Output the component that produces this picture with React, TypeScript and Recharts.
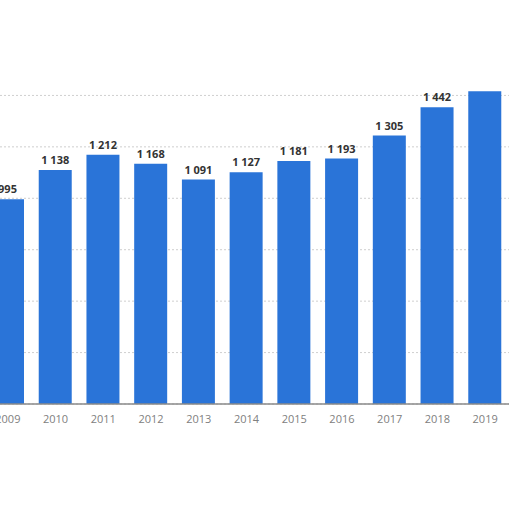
import React from "react";
import { BarChart, Bar, XAxis, YAxis, CartesianGrid, LabelList } from "recharts";

const years = ["2009", "2010", "2011", "2012", "2013", "2014", "2015", "2016", "2017", "2018", "2019"];
const values = [995, 1138, 1212, 1168, 1091, 1127, 1181, 1193, 1305, 1442, 1520];
// value labels as printed above the bars (the 2019 one is not visible in the picture)
const barLabels = ["995", "1 138", "1 212", "1 168", "1 091", "1 127", "1 181", "1 193", "1 305", "1 442", ""];
const yTicks = [0, 250, 500, 750, 1000, 1250, 1500];

const data = years.map((year, i) => ({
  year,
  value: values[i],
  // no-break space so the label is never wrapped to the bar width
  label: barLabels[i].replace(/ /g, "\u00a0"),
}));

export default function App() {
  return (
    <div
      style={{
        position: "absolute",
        left: 0,
        top: 0,
        width: 512,
        height: 512,
        overflow: "hidden",
        background: "#fff",
        fontFamily: "'Open Sans', sans-serif",
      }}
    >
      <div style={{ position: "absolute", left: -16, top: 0 }}>
        <BarChart
          width={541}
          height={434}
          data={data}
          margin={{ top: 44, right: 16, bottom: 0, left: 0 }}
        >
          <CartesianGrid
            vertical={false}
            horizontalValues={yTicks}
            stroke="#cfcfcf"
            strokeDasharray="2 2"
          />
          <XAxis
            dataKey="year"
            height={30}
            axisLine={{ stroke: "#8a8a8a", strokeWidth: 1.5 }}
            tickLine={false}
            tickMargin={5}
            tick={{ fill: "#808080", fontSize: 11 }}
            interval={0}
          />
          <YAxis hide domain={[0, 1750]} ticks={yTicks} />
          <Bar dataKey="value" fill="#2a74d8" barSize={33} isAnimationActive={false}>
            <LabelList
              dataKey="label"
              position="top"
              offset={6}
              style={{ fill: "#333", fontSize: 11, fontWeight: 700 }}
            />
          </Bar>
        </BarChart>
      </div>
    </div>
  );
}
